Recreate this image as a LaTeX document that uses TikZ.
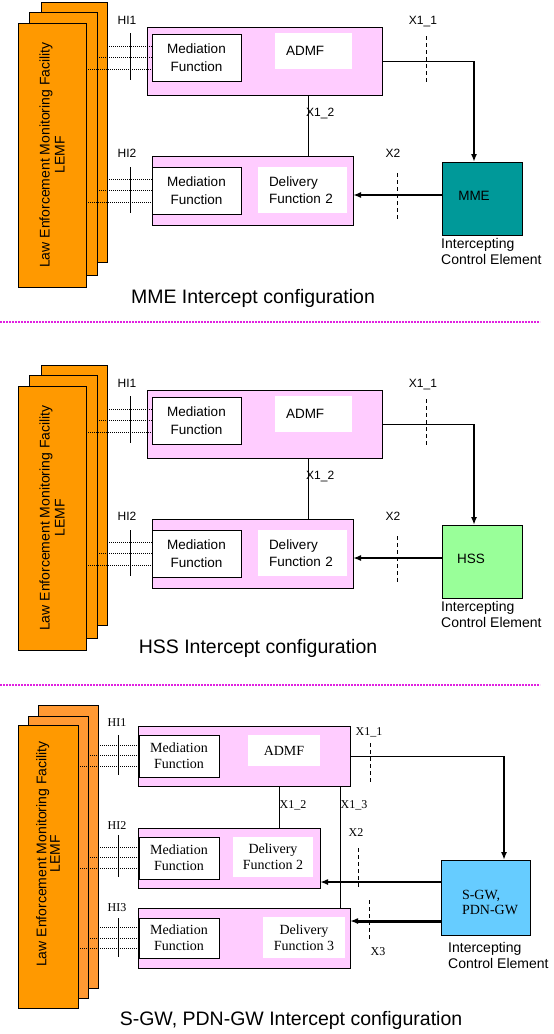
\documentclass[tikz,border=0pt]{standalone}
\usepackage{fontspec}
\setmainfont{Liberation Sans}
\newfontfamily\tms{Liberation Serif}
\usetikzlibrary{arrows.meta}
\definecolor{lemfor}{HTML}{FF9900}
\definecolor{lemflt}{HTML}{FF9933}
\definecolor{pinkf}{HTML}{FFCCFF}
\definecolor{mmec}{HTML}{009999}
\definecolor{hssc}{HTML}{99FF99}
\definecolor{gwc}{HTML}{66CCFF}
\definecolor{sepc}{HTML}{E020E0}
\tikzset{
  box/.style={draw, line width=0.8pt, anchor=north west, inner sep=0pt, outer sep=0pt},
  lemfbox/.style={box, fill=lemfor},
  pinkbox/.style={box, fill=pinkf},
  medbox/.style={box, fill=white, align=center},
  whitebox/.style={anchor=north west, fill=white, inner sep=0pt, outer sep=0pt},
  hidot/.style={line width=0.9pt, dash pattern=on 1pt off 1pt},
  hitick/.style={line width=0.8pt},
  xtick/.style={line width=0.8pt, dash pattern=on 4pt off 3pt},
  conn/.style={line width=0.8pt},
  feed/.style={line width=1.8pt, -{Latex[length=8pt,width=6pt]}},
  lbl/.style={font=\fontsize{12}{14}\selectfont, inner sep=0pt},
  txt/.style={font=\fontsize{13.5}{17.5}\selectfont},
  ttl/.style={font=\fontsize{19.5}{22}\selectfont, inner sep=0pt},
  lemftxt/.style={rotate=90, align=center, font=\fontsize{14}{15}\selectfont, inner sep=0pt},
  ice/.style={anchor=west, align=left, inner sep=0pt, font=\fontsize{14}{16}\selectfont},
  btxt/.style={font=\tms\fontsize{14}{16}\selectfont},
  blbl/.style={font=\tms\fontsize{12}{14}\selectfont, inner sep=0pt},
}
% #1 prefix, #2 element name, #3 colour, #4 text x
\newcommand\lisect[4]{%
  \node[lemfbox, minimum width=66, minimum height=260] (#1lb) at (41,2) {};
  \node[lemfbox, minimum width=68, minimum height=263] (#1lm) at (29,12) {};
  \node[lemfbox, minimum width=68, minimum height=264] (#1lf) at (18,23) {};
  \node[lemftxt] (#1lt) at (#1lf.center) {Law Enforcement Monitoring Facility\\LEMF};
  \node[pinkbox, minimum width=235, minimum height=68] (#1p1) at (147,27) {};
  \node[medbox, txt, minimum width=89, minimum height=47] (#1m1) at (152,34) {Mediation\\Function};
  \node[whitebox, txt, text width=55pt, inner xsep=11pt, minimum height=36, align=left] (#1a1) at (275,33) {ADMF};
  \node[pinkbox, minimum width=201, minimum height=69] (#1p2) at (152,156) {};
  \node[medbox, txt, minimum width=89, minimum height=47] (#1m2) at (152,167) {Mediation\\Function};
  \node[whitebox, txt, text width=67pt, inner xsep=11pt, minimum height=46, align=left] (#1d2) at (258,167) {Delivery\\Function 2};
  \node[box, fill=#3, minimum width=80, minimum height=73] (#1e) at (442,162) {};
  \node[txt, inner sep=0pt] (#1et) at (#4,196) {#2};
  \node[ice] (#1ice) at (441,251) {Intercepting\\Control Element};
  % HI interfaces
  \node[lbl] (#1h1) at (127,20) {HI1};
  \node[lbl] (#1h2) at (127,153) {HI2};
  \draw[hitick] (130,33) -- (130,80);
  \draw[hitick] (130,167) -- (130,213);
  \draw[hidot] (#1lb.east |- 0,46) -- (#1m1.west |- 0,46);
  \draw[hidot] (#1lm.east |- 0,57) -- (#1m1.west |- 0,57);
  \draw[hidot] (#1lf.east |- 0,69) -- (#1m1.west |- 0,69);
  \draw[hidot] (#1lb.east |- 0,179) -- (#1m2.west |- 0,179);
  \draw[hidot] (#1lm.east |- 0,190) -- (#1m2.west |- 0,190);
  \draw[hidot] (#1lf.east |- 0,202) -- (#1m2.west |- 0,202);
  % X1_1
  \coordinate (#1c1) at (474,0 |- #1p1.east);
  \draw[conn] (#1p1.east) -- (#1c1);
  \draw[feed] (#1c1) -- (#1c1 |- #1e.north);
  \draw[xtick] (426,36) -- (426,83);
  \node[lbl] (#1x11) at (423,22) {X1\_1};
  % X1_2
  \draw[conn] (#1p1.south -| 308,0) -- (#1p2.north -| 308,0);
  \node[lbl, anchor=west] (#1x12) at (306,113) {X1\_2};
  % X2
  \coordinate (#1c2) at (#1e.west |- 0,195);
  \draw[feed] (#1c2) -- (#1c2 -| #1p2.east);
  \draw[xtick] (397,173) -- (397,220);
  \node[lbl] (#1x2) at (393,153) {X2};
}
\begin{document}
\begin{tikzpicture}[x=1pt, y=-1pt]
\useasboundingbox (0,0) rectangle (554,1034);
% ---------- MME ----------
\lisect{s}{MME}{mmec}{474}
\node[ttl] (t1) at (253,298) {MME Intercept configuration};
\draw[sepc, line width=2pt, dash pattern=on 2pt off 1pt] (0,322) -- (540,322);
% ---------- HSS ----------
\begin{scope}[shift={(0,363)}]
\lisect{h}{HSS}{hssc}{471}
\end{scope}
\node[ttl] (t2) at (258,648) {HSS Intercept configuration};
\draw[sepc, line width=2pt, dash pattern=on 2pt off 1pt] (0,685) -- (540,685);
% ---------- S-GW / PDN-GW ----------
\node[lemfbox, fill=lemflt, minimum width=60, minimum height=283] (lb3) at (38,705) {};
\node[lemfbox, fill=lemflt, minimum width=60, minimum height=282] (lm3) at (28,716) {};
\node[lemfbox, minimum width=60, minimum height=283] (lf3) at (18,725) {};
\node[lemftxt, font=\fontsize{14}{13.5}\selectfont] (lt3) at (48,854) {Law Enforcement Monitoring Facility\\LEMF};
\node[pinkbox, minimum width=212, minimum height=60] (q1) at (138,726) {};
\node[medbox, btxt, minimum width=80, minimum height=42] (n1) at (139,735) {Mediation\\Function};
\node[whitebox, btxt, minimum width=72, minimum height=31] (a3) at (248,735) {ADMF};
\node[pinkbox, minimum width=182, minimum height=60] (q2) at (138,828) {};
\node[medbox, btxt, minimum width=80, minimum height=42] (n2) at (139,837) {Mediation\\Function};
\node[whitebox, btxt, align=center, minimum width=80, minimum height=40] (d32) at (233,837) {Delivery\\Function 2};
\node[pinkbox, minimum width=212, minimum height=60] (q3) at (138,908) {};
\node[medbox, btxt, minimum width=80, minimum height=40] (n3) at (139,918) {Mediation\\Function};
\node[whitebox, btxt, align=center, minimum width=82, minimum height=41] (d33) at (263,917) {Delivery\\Function 3};
\node[box, fill=gwc, minimum width=89, minimum height=75] (gw) at (441,860) {};
\node[btxt, align=left, font=\tms\fontsize{14}{15}\selectfont, inner sep=0pt] (gwt) at (490,902) {S-GW,\\PDN-GW};
\node[ice] (ice3) at (448,955) {Intercepting\\Control Element};
% HI interfaces
\node[blbl] (bh1) at (117,723) {HI1};
\node[blbl] (bh2) at (117,826) {HI2};
\node[blbl] (bh3) at (117,908) {HI3};
\draw[hitick] (118,735) -- (118,775);
\draw[hitick] (118,835) -- (118,877);
\draw[hitick] (118,918) -- (118,957);
\draw[hidot] (lb3.east |- 0,745) -- (n1.west |- 0,745);
\draw[hidot] (lm3.east |- 0,755) -- (n1.west |- 0,755);
\draw[hidot] (lf3.east |- 0,766) -- (n1.west |- 0,766);
\draw[hidot] (lb3.east |- 0,847) -- (n2.west |- 0,847);
\draw[hidot] (lm3.east |- 0,857) -- (n2.west |- 0,857);
\draw[hidot] (lf3.east |- 0,868) -- (n2.west |- 0,868);
\draw[hidot] (lb3.east |- 0,927) -- (n3.west |- 0,927);
\draw[hidot] (lm3.east |- 0,938) -- (n3.west |- 0,938);
\draw[hidot] (lf3.east |- 0,948) -- (n3.west |- 0,948);
% X1_1
\coordinate (bc1) at (504,0 |- q1.east);
\draw[conn] (q1.east) -- (bc1);
\draw[feed] (bc1) -- (bc1 |- gw.north);
\draw[xtick] (370,743) -- (370,783);
\node[blbl] (bx11) at (369,732) {X1\_1};
% X1_2, X1_3
\draw[conn] (q1.south -| 279,0) -- (q2.north -| 279,0);
\node[blbl] (bx12) at (293,805) {X1\_2};
\draw[conn] (q1.south -| 340,0) -- (q3.north -| 340,0);
\node[blbl] (bx13) at (354,805) {X1\_3};
% X2
\coordinate (bc2) at (gw.west |- 0,882);
\draw[feed] (bc2) -- (bc2 -| q2.east);
\draw[xtick] (358,848) -- (358,888);
\node[blbl] (bx2) at (356,833) {X2};
% X3
\coordinate (bc3) at (gw.west |- 0,921);
\draw[feed, line width=3pt] (bc3) -- (bc3 -| q3.east);
\draw[xtick] (369,900) -- (369,940);
\node[blbl] (bx3) at (378,952) {X3};
\node[ttl] (t3) at (291,1020) {S-GW, PDN-GW Intercept configuration};
\end{tikzpicture}
\end{document}
